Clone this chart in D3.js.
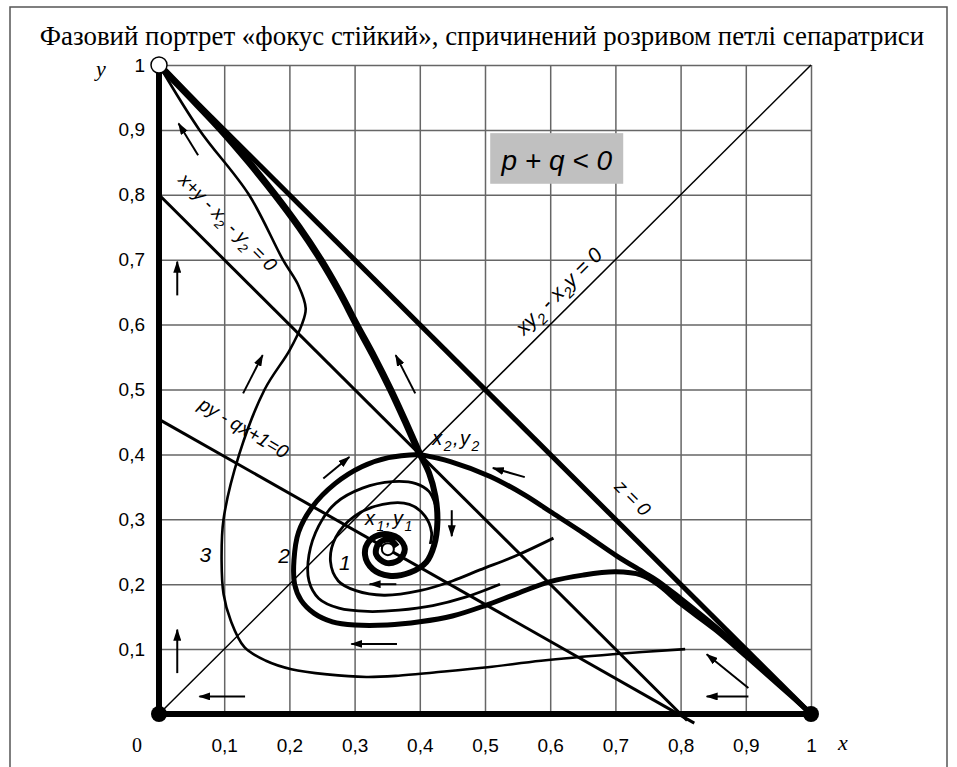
<!DOCTYPE html>
<html>
<head>
<meta charset="utf-8">
<script src="https://cdn.jsdelivr.net/npm/d3@7"></script>
<style>
body { margin: 0; background: #fff; }
svg { display: block; }
.serif { font-family: "Liberation Serif", "Times New Roman", serif; }
.sans { font-family: "Liberation Sans", Arial, sans-serif; }
</style>
</head>
<body>
<script>
var w = 957, h = 767;

var titleText = "Фазовий портрет «фокус стійкий», спричинений розривом петлі сепаратриси";

var xTicks = [0.1, 0.2, 0.3, 0.4, 0.5, 0.6, 0.7, 0.8, 0.9, 1];
var xTickLabels = ["0,1", "0,2", "0,3", "0,4", "0,5", "0,6", "0,7", "0,8", "0,9", "1"];
var yTicks = [0.1, 0.2, 0.3, 0.4, 0.5, 0.6, 0.7, 0.8, 0.9, 1];
var yTickLabels = ["0,1", "0,2", "0,3", "0,4", "0,5", "0,6", "0,7", "0,8", "0,9", "1"];

// straight lines of the portrait
var axisX = [[0, 0], [1, 0]];
var axisY = [[0, 0], [0, 1]];
var lineZ = [[0, 1], [1, 0]];
var lineDiag = [[0, 0], [1, 1]];
var lineSum = [[0, 0.8], [0.81, -0.01]];
var linePQ = [[0, 0.454], [0.821, -0.014]];

// trajectories
var sepUp = [[0.4, 0.4], [0.378, 0.45], [0.355, 0.5], [0.33, 0.55], [0.303, 0.6], [0.277, 0.65],
  [0.248, 0.7], [0.215, 0.75], [0.178, 0.8], [0.138, 0.85], [0.095, 0.9], [0.048, 0.95], [0, 1]];
var sepLoop = [[1, 0], [0.956, 0.04], [0.904, 0.086], [0.853, 0.13], [0.8, 0.17], [0.765, 0.2],
  [0.74, 0.214], [0.7, 0.219], [0.65, 0.214], [0.6, 0.204], [0.55, 0.186], [0.5, 0.167],
  [0.45, 0.151], [0.4, 0.142], [0.35, 0.137], [0.3, 0.137], [0.266, 0.142], [0.238, 0.155],
  [0.218, 0.175], [0.208, 0.2], [0.207, 0.237], [0.214, 0.28], [0.235, 0.319], [0.27, 0.355],
  [0.311, 0.381], [0.352, 0.395], [0.4, 0.4]];
var sepRight = [[1, 0], [0.956, 0.042], [0.904, 0.09], [0.853, 0.135], [0.8, 0.178], [0.765, 0.205],
  [0.744, 0.218], [0.703, 0.243], [0.652, 0.278], [0.6, 0.312], [0.56, 0.338], [0.508, 0.366],
  [0.447, 0.389], [0.4, 0.4]];
var sepSpiral = [[0.4, 0.4], [0.414, 0.372], [0.424, 0.335], [0.427, 0.296], [0.422, 0.26],
  [0.41, 0.234], [0.385, 0.218], [0.353, 0.213], [0.328, 0.223], [0.316, 0.245], [0.322, 0.266],
  [0.343, 0.277], [0.367, 0.271], [0.377, 0.254], [0.368, 0.237], [0.348, 0.233], [0.333, 0.246],
  [0.337, 0.263], [0.353, 0.269], [0.365, 0.258]];
var traj1 = [[0.605, 0.271], [0.55, 0.245], [0.492, 0.222], [0.45, 0.205], [0.4, 0.19], [0.345, 0.183],
  [0.302, 0.19], [0.275, 0.205], [0.263, 0.235], [0.271, 0.272], [0.3, 0.305], [0.343, 0.323],
  [0.384, 0.323], [0.408, 0.305], [0.418, 0.28], [0.416, 0.262]];
var traj2 = [[0.523, 0.2], [0.47, 0.18], [0.42, 0.167], [0.368, 0.16], [0.32, 0.158], [0.276, 0.163],
  [0.245, 0.178], [0.23, 0.205], [0.23, 0.245], [0.245, 0.29], [0.271, 0.325], [0.312, 0.348],
  [0.358, 0.358], [0.394, 0.355], [0.414, 0.343], [0.424, 0.322]];
var traj3 = [[0.807, 0.1], [0.696, 0.092], [0.586, 0.082], [0.504, 0.072], [0.422, 0.064],
  [0.367, 0.059], [0.318, 0.057], [0.258, 0.061], [0.203, 0.069], [0.164, 0.082], [0.131, 0.103],
  [0.11, 0.144], [0.099, 0.185], [0.096, 0.236], [0.099, 0.3], [0.123, 0.4], [0.162, 0.5],
  [0.2, 0.56], [0.219, 0.6], [0.225, 0.625], [0.214, 0.66], [0.19, 0.7], [0.138, 0.8],
  [0.062, 0.9], [0, 1]];

// direction arrows: [x from, y from, x to, y to]
var arrows = [
  [0.06, 0.861, 0.03, 0.91], [0.028, 0.645, 0.028, 0.697], [0.129, 0.494, 0.159, 0.553],
  [0.393, 0.494, 0.363, 0.553], [0.252, 0.363, 0.292, 0.396], [0.449, 0.314, 0.449, 0.274],
  [0.364, 0.2, 0.323, 0.2], [0.561, 0.365, 0.512, 0.379], [0.365, 0.108, 0.295, 0.108],
  [0.028, 0.063, 0.028, 0.13], [0.132, 0.027, 0.062, 0.027], [0.904, 0.027, 0.84, 0.027],
  [0.904, 0.04, 0.84, 0.092]
];

// equilibrium points
var nodesFilled = [[0, 0], [1, 0]];
var nodesOpen = [[0, 1]];
var focus = [[0.351, 0.254]];

var svg = d3.select("body").append("svg")
  .attr("width", w)
  .attr("height", h);

var x = d3.scaleLinear().domain([0, 1]).range([159, 811]);
var y = d3.scaleLinear().domain([0, 1]).range([714, 65]);

// outer frame
svg.append("path")
  .attr("d", "M10," + h + "V7H947V" + h)
  .attr("fill", "none")
  .attr("stroke", "#555")
  .attr("stroke-width", 1.5);

// title
var title = svg.append("text")
  .attr("class", "serif")
  .attr("x", 482)
  .attr("y", 45)
  .attr("text-anchor", "middle")
  .style("font-size", "26px")
  .text(titleText);
var tl = title.node().getComputedTextLength();
title.style("font-size", (26 * 885 / tl) + "px");

// grid via axes
var gx = svg.append("g")
  .attr("transform", "translate(0," + y(0) + ")")
  .call(d3.axisBottom(x).tickValues(xTicks)
    .tickSize(-(y(0) - y(1)))
    .tickPadding(25)
    .tickFormat(function(d, i) { return xTickLabels[i]; }));
var gy = svg.append("g")
  .attr("transform", "translate(" + x(0) + ",0)")
  .call(d3.axisLeft(y).tickValues(yTicks)
    .tickSize(-(x(1) - x(0)))
    .tickPadding(14)
    .tickFormat(function(d, i) { return yTickLabels[i]; }));
[gx, gy].forEach(function(g) {
  g.attr("font-family", null).attr("font-size", null);
  g.select(".domain").remove();
  g.selectAll(".tick line").attr("stroke", "#666").attr("stroke-width", 1.5);
  g.selectAll(".tick text")
    .attr("class", "sans")
    .attr("fill", "#000")
    .style("font-size", "19px");
});

var line = d3.line().x(function(d) { return x(d[0]); }).y(function(d) { return y(d[1]); });
var curve = d3.line().curve(d3.curveCatmullRom.alpha(0.5))
  .x(function(d) { return x(d[0]); }).y(function(d) { return y(d[1]); });

function draw(gen, data, sw) {
  svg.append("path")
    .attr("d", gen(data))
    .attr("fill", "none")
    .attr("stroke", "#000")
    .attr("stroke-width", sw)
    .attr("stroke-linejoin", "round");
}

draw(line, lineDiag, 1.5);
draw(line, lineSum, 3);
draw(line, linePQ, 3);
draw(curve, traj3, 2.6);
draw(curve, traj2, 2.8);
draw(curve, traj1, 2.8);
draw(curve, sepLoop, 5);
draw(curve, sepRight, 5);
draw(curve, sepSpiral, 6);
draw(curve, sepUp, 7);
draw(line, lineZ, 5);
draw(line, axisX, 6);
draw(line, axisY, 6);

// arrows
svg.append("defs").append("marker")
  .attr("id", "head")
  .attr("markerUnits", "userSpaceOnUse")
  .attr("viewBox", "0 0 12 8")
  .attr("refX", 11)
  .attr("refY", 4)
  .attr("markerWidth", 12)
  .attr("markerHeight", 8)
  .attr("orient", "auto")
  .append("path")
  .attr("d", "M0,0L12,4L0,8Z")
  .attr("fill", "#000");

svg.selectAll("line.arrow")
  .data(arrows)
  .enter()
  .append("line")
  .attr("class", "arrow")
  .attr("x1", function(d) { return x(d[0]); })
  .attr("y1", function(d) { return y(d[1]); })
  .attr("x2", function(d) { return x(d[2]); })
  .attr("y2", function(d) { return y(d[3]); })
  .attr("stroke", "#000")
  .attr("stroke-width", 2)
  .attr("marker-end", "url(#head)");

// points
svg.selectAll("circle.filled")
  .data(nodesFilled)
  .enter()
  .append("circle")
  .attr("cx", function(d) { return x(d[0]); })
  .attr("cy", function(d) { return y(d[1]); })
  .attr("r", 8)
  .attr("fill", "#000");
svg.selectAll("circle.open")
  .data(nodesOpen)
  .enter()
  .append("circle")
  .attr("cx", function(d) { return x(d[0]); })
  .attr("cy", function(d) { return y(d[1]); })
  .attr("r", 8)
  .attr("fill", "#fff")
  .attr("stroke", "#000")
  .attr("stroke-width", 1.5);
svg.selectAll("circle.focus")
  .data(focus)
  .enter()
  .append("circle")
  .attr("cx", function(d) { return x(d[0]); })
  .attr("cy", function(d) { return y(d[1]); })
  .attr("r", 6)
  .attr("fill", "#fff")
  .attr("stroke", "#000")
  .attr("stroke-width", 2);

// labels
function rich(parent, parts, fs) {
  var sub = Math.round(fs * 0.7), shift = fs * 0.3;
  var down = false;
  parts.forEach(function(p) {
    var t = parent.append("tspan").text(p[0]);
    if (p[1] && !down) { t.attr("dy", shift).style("font-size", sub + "px"); down = true; }
    else if (p[1]) { t.style("font-size", sub + "px"); }
    else if (down) { t.attr("dy", -shift); down = false; }
  });
}

function rotLabel(cx, cy, ang, parts, fs) {
  var t = svg.append("text")
    .attr("class", "sans")
    .attr("transform", "translate(" + x(cx) + "," + y(cy) + ") rotate(" + ang + ")")
    .attr("text-anchor", "middle")
    .attr("dy", "0.35em")
    .style("font-style", "italic")
    .style("font-size", fs + "px");
  rich(t, parts, fs);
}

rotLabel(0.106, 0.758, 45, [["x+y - x", 0], ["2", 1], [" - y", 0], ["2", 1], [" = 0", 0]], 19);
rotLabel(0.13, 0.441, 30.6, [["py - qx+1=0", 0]], 19);
rotLabel(0.613, 0.652, -45, [["xy", 0], ["2", 1], [" - x", 0], ["2", 1], ["y = 0", 0]], 21);
rotLabel(0.727, 0.333, 45, [["z = 0", 0]], 19);

var pt = svg.append("text")
  .attr("class", "sans")
  .attr("x", x(0.419)).attr("y", y(0.414))
  .style("font-style", "italic").style("font-size", "20px")
  .attr("letter-spacing", 1.5);
rich(pt, [["x", 0], ["2", 1], [",y", 0], ["2", 1]], 20);
var pf = svg.append("text")
  .attr("class", "sans")
  .attr("x", x(0.316)).attr("y", y(0.291))
  .style("font-style", "italic").style("font-size", "20px")
  .attr("letter-spacing", 1.5);
rich(pf, [["x", 0], ["1", 1], [",y", 0], ["1", 1]], 20);

var numLabels = [["1", 0.285, 0.222], ["2", 0.192, 0.233], ["3", 0.071, 0.234]];
svg.selectAll("text.num")
  .data(numLabels)
  .enter()
  .append("text")
  .attr("class", "num sans")
  .attr("x", function(d) { return x(d[1]); })
  .attr("y", function(d) { return y(d[2]); })
  .attr("text-anchor", "middle")
  .style("font-style", "italic")
  .style("font-size", "21px")
  .text(function(d) { return d[0]; });

// p + q < 0 box
svg.append("rect")
  .attr("x", x(0.508)).attr("y", y(0.895))
  .attr("width", x(0.712) - x(0.508)).attr("height", y(0.817) - y(0.895))
  .attr("fill", "#c0c0c0");
svg.append("text")
  .attr("class", "sans")
  .attr("x", x(0.61)).attr("y", y(0.838))
  .attr("text-anchor", "middle")
  .style("font-style", "italic").style("font-size", "28px")
  .text("p + q < 0");

// axis names
svg.append("text").attr("class", "serif").attr("x", 137).attr("y", 752)
  .attr("text-anchor", "middle").style("font-size", "20px").text("0");
svg.append("text").attr("class", "serif").attr("x", 843).attr("y", 750)
  .attr("text-anchor", "middle").style("font-style", "italic").style("font-size", "22px").text("x");
svg.append("text").attr("class", "serif").attr("x", 101).attr("y", 76)
  .attr("text-anchor", "middle").style("font-style", "italic").style("font-size", "22px").text("y");
</script>
</body>
</html>
